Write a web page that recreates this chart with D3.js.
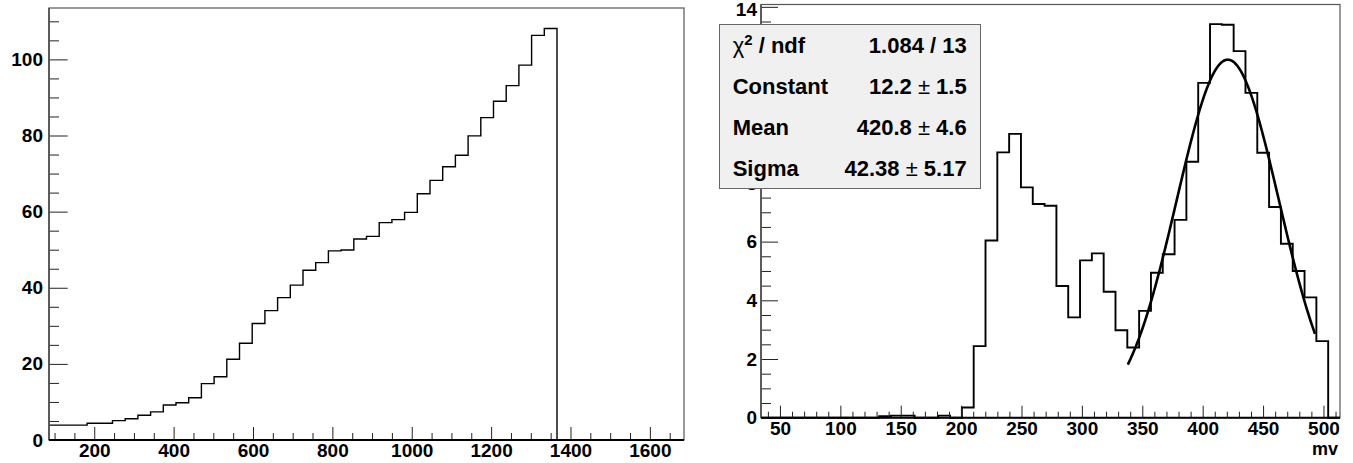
<!DOCTYPE html>
<html>
<head>
<meta charset="utf-8">
<script src="https://cdn.jsdelivr.net/npm/d3@7"></script>
<style>
  body { margin: 0; background: #fff; }
  svg { display: block; font-family: "Liberation Sans", Arial, sans-serif; font-weight: bold; }
</style>
</head>
<body>
<script>
// left histogram: 50 bins over [86, 1686]
var leftRange = [86, 1686];
var leftCounts = [3.9, 3.9, 3.9, 4.4, 4.4, 5.1, 5.6, 6.5, 7.4, 9.2,
  9.8, 11.1, 14.8, 16.6, 21.2, 25.4, 30.6, 34.0, 37.4, 40.7,
  44.6, 46.6, 49.7, 49.9, 52.8, 53.5, 57.1, 57.9, 59.8, 64.7,
  68.2, 71.8, 74.8, 79.9, 84.7, 89.0, 93.1, 98.5, 106.3, 108.1,
  0, 0, 0, 0, 0, 0, 0, 0, 0, 0];
var leftXTicks = [200, 400, 600, 800, 1000, 1200, 1400, 1600];
var leftYTicks = [0, 20, 40, 60, 80, 100];

// right histogram: 49 bins over [34.3, 513.7] (mv)
var rightRange = [34.3, 513.7];
var rightCounts = [0, 0, 0, 0, 0, 0, 0, 0, 0, 0,
  0.05, 0.07, 0.07, 0, 0, 0.07, 0, 0.35, 2.44, 6.04,
  9.04, 9.67, 7.85, 7.28, 7.22, 4.49, 3.42, 5.36, 5.6, 4.29,
  2.98, 2.39, 3.64, 4.94, 5.57, 6.74, 8.72, 11.41, 13.41, 13.39,
  12.49, 11.07, 9.03, 7.18, 5.93, 5.0, 4.10, 2.61, 0];
var rightXTicks = [50, 100, 150, 200, 250, 300, 350, 400, 450, 500];
var rightYTicks = [0, 2, 4, 6, 8, 10, 12, 14];
// these labels sit fully under the stats box
var rightYHidden = [10, 12];

// gaussian fit shown in the stats box
var fitConstant = 12.2, fitMean = 420.8, fitSigma = 42.38;
var fitRange = [338, 493];
var statNames = ["Constant", "Mean", "Sigma"];
var statValues = ["12.2", "420.8", "42.38"];
var statErrors = ["1.5", "4.6", "5.17"];
var chi2Text = "1.084 / 13";

var svg = d3.select("body").append("svg")
  .attr("width", 1353)
  .attr("height", 463);

function drawPanel(p) {
  var x = d3.scaleLinear().domain(p.xRange).range([p.left, p.right]);
  var y = d3.scaleLinear().domain([0, p.yMax]).range([p.bottom, p.top]);
  var g = svg.append("g");
  var hidden = p.yHidden || [];

  // frame
  g.append("rect")
    .attr("x", p.left).attr("y", p.top)
    .attr("width", p.right - p.left).attr("height", p.bottom - p.top)
    .attr("fill", "none").attr("stroke", "#555").attr("stroke-width", 1.2);

  // histogram as steps
  var n = p.counts.length;
  var w = (p.xRange[1] - p.xRange[0]) / n;
  var pts = [];
  p.counts.forEach(function (c, i) {
    pts.push([p.xRange[0] + i * w, c]);
    pts.push([p.xRange[0] + (i + 1) * w, c]);
  });
  var line = d3.line()
    .x(function (d) { return x(d[0]); })
    .y(function (d) { return y(d[1]); });
  g.append("path")
    .attr("d", line(pts))
    .attr("fill", "none").attr("stroke", "#000")
    .attr("stroke-width", p.histWidth);

  // minor ticks
  g.append("g")
    .attr("transform", "translate(0," + p.bottom + ")")
    .call(d3.axisBottom(x).tickValues(p.xMinor).tickSize(-p.xMinorLen).tickFormat(""))
    .call(function (a) { a.select(".domain").remove(); });
  g.append("g")
    .attr("transform", "translate(" + p.left + ",0)")
    .call(d3.axisLeft(y).tickValues(p.yMinor).tickSize(-p.yMinorLen).tickFormat(""))
    .call(function (a) { a.select(".domain").remove(); });

  // major ticks with labels
  var xa = g.append("g")
    .attr("transform", "translate(0," + p.bottom + ")")
    .call(d3.axisBottom(x).tickValues(p.xTicks).tickSize(-p.xMajorLen)
      .tickPadding(4).tickFormat(d3.format("d")));
  var ya = g.append("g")
    .attr("transform", "translate(" + p.left + ",0)")
    .call(d3.axisLeft(y).tickValues(p.yTicks).tickSize(-p.yMajorLen)
      .tickPadding(p.yPad)
      .tickFormat(function (d) { return hidden.indexOf(d) >= 0 ? "" : d3.format("d")(d); }));
  [xa, ya].forEach(function (a) {
    a.select(".domain").remove();
    a.selectAll("text")
      .attr("fill", "#000")
      .style("font-size", "19px")
      .style("font-family", "Liberation Sans, Arial, sans-serif")
      .style("font-weight", "bold");
  });
  // keep the top label inside the picture
  ya.selectAll(".tick text")
    .filter(function (d) { return y(d) < 12; })
    .attr("y", 3);
  g.selectAll(".tick line").attr("stroke", "#222");

  // axis lines
  g.append("line")
    .attr("x1", p.left).attr("x2", p.left)
    .attr("y1", p.top).attr("y2", p.bottom)
    .attr("stroke", "#555").attr("stroke-width", 1.8);
  g.append("line")
    .attr("x1", p.left).attr("x2", p.right)
    .attr("y1", p.bottom).attr("y2", p.bottom)
    .attr("stroke", "#000").attr("stroke-width", 2);

  return {x: x, y: y, g: g};
}

var left = drawPanel({
  left: 49, right: 684, top: 8, bottom: 440,
  xRange: leftRange, yMax: 113.5, counts: leftCounts,
  xTicks: leftXTicks, yTicks: leftYTicks,
  xMinor: d3.range(100, 1686, 50).filter(function (v) { return v % 200 != 0; }),
  yMinor: d3.range(5, 113, 5).filter(function (v) { return v % 20 != 0; }),
  xMajorLen: 13, xMinorLen: 7, yMajorLen: 18.7, yMinorLen: 10,
  yPad: 6, histWidth: 1.4
});

var right = drawPanel({
  left: 761, right: 1340, top: 4.5, bottom: 417.7,
  xRange: rightRange, yMax: 14.08, counts: rightCounts,
  xTicks: rightXTicks, yTicks: rightYTicks, yHidden: rightYHidden,
  xMinor: d3.range(40, 513, 10).filter(function (v) { return v % 50 != 0; }),
  yMinor: d3.range(0.5, 14, 0.5).filter(function (v) { return v % 2 != 0; }),
  xMajorLen: 12, xMinorLen: 6, yMajorLen: 17, yMinorLen: 10,
  yPad: 4, histWidth: 1.9
});

// gaussian fit curve
var fitPts = d3.range(fitRange[0], fitRange[1] + 0.01, 0.5).map(function (v) {
  var t = (v - fitMean) / fitSigma;
  return [v, fitConstant * Math.exp(-0.5 * t * t)];
});
right.g.append("path")
  .attr("d", d3.line()
    .x(function (d) { return right.x(d[0]); })
    .y(function (d) { return right.y(d[1]); })(fitPts))
  .attr("fill", "none").attr("stroke", "#000").attr("stroke-width", 2.6);

// x axis title
svg.append("text")
  .attr("x", 1338).attr("y", 455)
  .attr("text-anchor", "end")
  .style("font-size", "18px")
  .text("mv");

// stats box
var box = svg.append("g");
box.append("rect")
  .attr("x", 719.5).attr("y", 24.5)
  .attr("width", 261).attr("height", 164)
  .attr("fill", "#f0f0f0").attr("stroke", "#666").attr("stroke-width", 1);

var rowY = [52.8, 93.9, 135, 176.1];
var chiLabel = box.append("text")
  .attr("x", 732.7).attr("y", rowY[0])
  .style("font-size", "22px");
chiLabel.append("tspan").style("font-weight", "normal").text("χ");
chiLabel.append("tspan").attr("dy", -8).style("font-size", "15px").text("2");
chiLabel.append("tspan").attr("dy", 8).text(" / ndf");
box.append("text")
  .attr("x", 966.7).attr("y", rowY[0])
  .attr("text-anchor", "end")
  .style("font-size", "22px")
  .text(chi2Text);

statNames.forEach(function (name, i) {
  box.append("text")
    .attr("x", 732.7).attr("y", rowY[i + 1])
    .style("font-size", "22px")
    .text(name);
  var t = box.append("text")
    .attr("x", 966.7).attr("y", rowY[i + 1])
    .attr("text-anchor", "end")
    .style("font-size", "22px");
  t.append("tspan").text(statValues[i] + " ");
  t.append("tspan").style("font-weight", "normal").text("±");
  t.append("tspan").text(" " + statErrors[i]);
});
</script>
</body>
</html>
